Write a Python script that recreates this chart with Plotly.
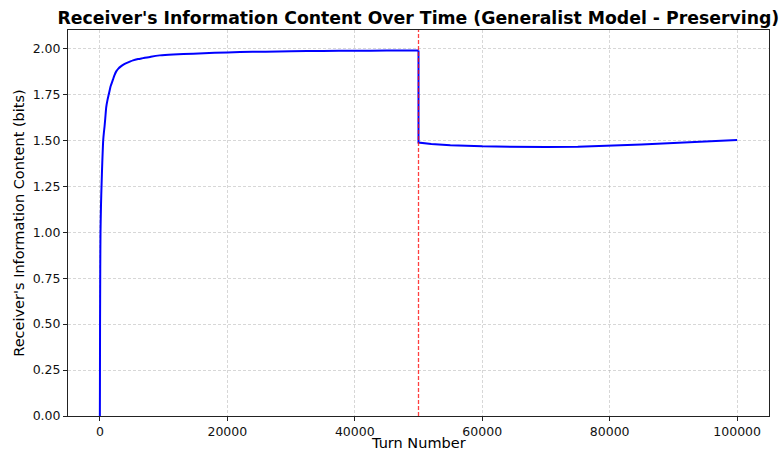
import plotly.graph_objects as go

# Data
turns = [0, 10, 30, 60, 100, 180, 260, 380, 525, 640, 735, 850, 1000, 1200,
         1400, 1700, 2050, 2300, 2570, 2900, 3300, 3700, 4150, 4700, 5200,
         6000, 6770, 8000, 9400, 11500, 14650, 18000, 22000, 26000, 30000,
         35000, 40000, 45000, 50000,
         50000, 52000, 55000, 60000, 65000, 70000, 75000, 80000, 85000,
         90000, 95000, 100000]
info_bits = [0.0, 0.15, 0.5, 0.8, 1.0, 1.15, 1.25, 1.38, 1.5, 1.545, 1.575,
             1.62, 1.68, 1.72, 1.75, 1.795, 1.83, 1.855, 1.875, 1.89, 1.902,
             1.912, 1.92, 1.928, 1.935, 1.942, 1.947, 1.955, 1.962, 1.967,
             1.971, 1.976, 1.98, 1.982, 1.984, 1.986, 1.987, 1.988, 1.989,
             1.488, 1.480, 1.473, 1.467, 1.463, 1.463, 1.465, 1.470, 1.477,
             1.485, 1.493, 1.502]
change_turn = [50000, 50000]
change_span = [0, 2.1]

x_ticks = [0, 20000, 40000, 60000, 80000, 100000]
y_ticks = [0.0, 0.25, 0.5, 0.75, 1.0, 1.25, 1.5, 1.75, 2.0]

split = turns.index(50000) + 1  # end of the first phase

fig = go.Figure()
fig.add_trace(go.Scatter(x=turns[:split], y=info_bits[:split], mode="lines",
                         line=dict(color="#0000ff", width=2, shape="spline", smoothing=0.6),
                         showlegend=False))
fig.add_trace(go.Scatter(x=turns[split - 1:], y=info_bits[split - 1:], mode="lines",
                         line=dict(color="#0000ff", width=2),
                         showlegend=False))
fig.add_trace(go.Scatter(x=change_turn, y=change_span, mode="lines",
                         line=dict(color="rgba(255,0,0,0.75)", width=1.3, dash="4px,2px"),
                         showlegend=False))

font = "DejaVu Sans"
axis_common = dict(
    showline=True, mirror=True, linecolor="#222", linewidth=1,
    ticks="outside", ticklen=4, tickcolor="#222", tickwidth=1,
    showgrid=True, gridcolor="rgba(176,176,176,0.5)", gridwidth=0.8, griddash="3px,2px",
    zeroline=False, automargin=False,
    tickfont=dict(family=font, size=12.5, color="#111"),
)
fig.update_layout(
    width=782, height=452,
    margin=dict(l=68, r=13, t=30, b=36),
    paper_bgcolor="white", plot_bgcolor="white",
    title=dict(text="<b>Receiver's Information Content Over Time (Generalist Model - Preserving)</b>",
               x=0.535, xanchor="center", y=0.96, yanchor="middle",
               font=dict(family=font, size=17.3, color="black")),
    xaxis=dict(range=[-5000, 105000], tickvals=x_ticks, tickformat="d",
               **axis_common),
    yaxis=dict(range=[0, 2.1], tickvals=y_ticks, tickformat=".2f",
               title=dict(text="Receiver's Information Content (bits)", standoff=4,
                          font=dict(family=font, size=14.5, color="black")),
               **axis_common),
    annotations=[dict(text="Turn Number", xref="paper", yref="paper", x=0.5, y=0,
                      xanchor="center", yanchor="middle", yshift=-27, showarrow=False,
                      font=dict(family=font, size=14.5, color="black"))],
)

fig.write_html("out.html", config={"displayModeBar": False},
               post_script="document.body.style.margin='0';document.body.style.padding='0';")
